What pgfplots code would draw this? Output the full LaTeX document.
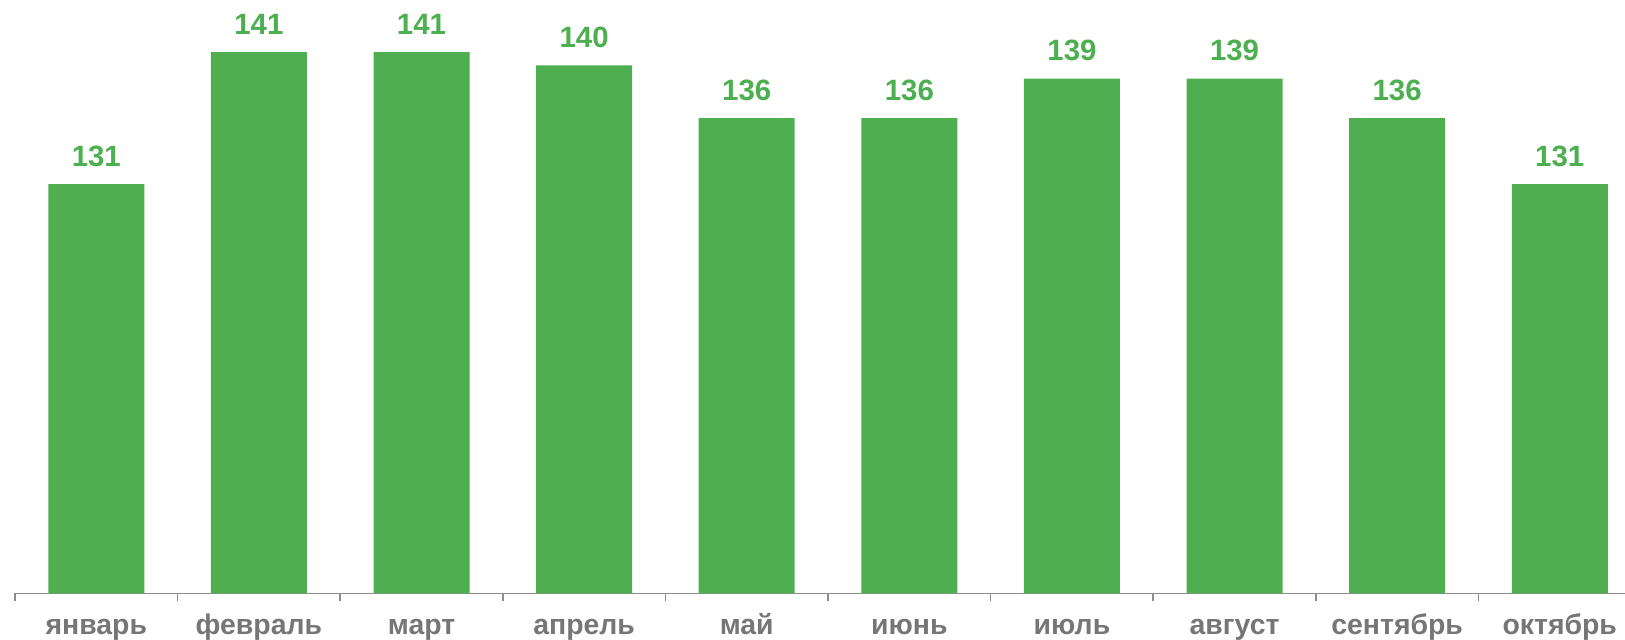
\documentclass[border=0pt]{standalone}
\usepackage{fontspec}
\setmainfont{Liberation Sans}
\usepackage{pgfplots}
\pgfplotsset{compat=1.18}
\definecolor{barg}{RGB}{79,174,79}
\definecolor{labg}{RGB}{76,175,80}
\definecolor{gtxt}{RGB}{118,118,118}
\definecolor{axg}{RGB}{140,140,140}
\begin{document}
\begin{tikzpicture}
\begin{axis}[
  at={(7.5pt,22.85pt)}, anchor=south west,
  scale only axis, width=804.9pt, height=296.65pt,
  xmin=-0.5, xmax=9.4, ymin=100, ymax=144.95,
  clip=false,
  axis x line=bottom, axis y line=none,
  axis line style={-, draw=axg, line width=0.75pt},
  xtick={0,...,9},
  xticklabels={январь,февраль,март,апрель,май,июнь,июль,август,сентябрь,октябрь},
  major tick length=0pt,
  extra x ticks={-0.5,0.5,...,8.5},
  extra x tick labels={},
  extra x tick style={major tick length=4pt, tick style={draw=axg, line width=0.75pt}, tick align=outside},
  xticklabel style={anchor=base, yshift=-20.5pt, text=gtxt, font=\fontsize{14.2}{16}\selectfont\bfseries},
  ybar, bar width=48pt,
  /pgf/number format/assume math mode=true,
  nodes near coords,
  every node near coord/.append style={anchor=base, yshift=8.85pt, inner sep=0pt, text=labg, font=\fontsize{14.7}{16}\selectfont\bfseries},
]
\addplot[fill=barg, draw=none] coordinates {
  (0,131) (1,141) (2,141) (3,140) (4,136) (5,136) (6,139) (7,139) (8,136) (9,131)
};
\end{axis}
\pgfresetboundingbox
\useasboundingbox (0,0) rectangle (812.5pt,319.5pt);
\end{tikzpicture}
\end{document}
